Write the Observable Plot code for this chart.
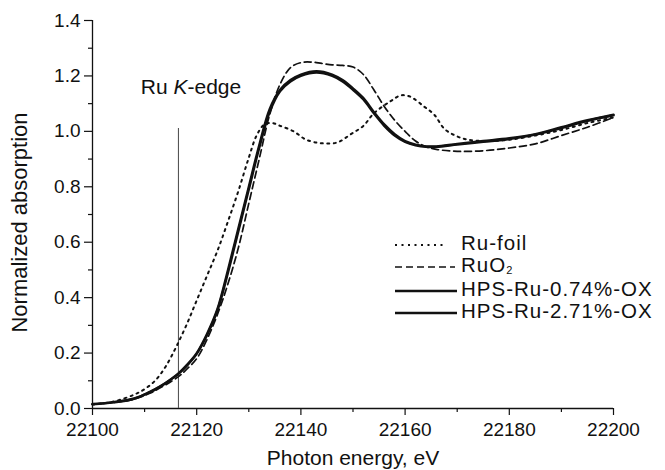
<!DOCTYPE html>
<html><head><meta charset="utf-8">
<script src="https://cdn.jsdelivr.net/npm/d3@7"></script>
<script src="https://cdn.jsdelivr.net/npm/@observablehq/plot@0.6"></script>
<style>
body{margin:0;background:#fff}
#wrap{position:relative;width:665px;height:470px;font-family:"Liberation Sans",Arial,sans-serif}
#wrap svg.overlay{position:absolute;left:0;top:0;pointer-events:none}
</style>
</head><body><div id="wrap"></div>
<script>
// ---- data ----
const seriesNames = ["Ru-foil", "RuO2", "HPS-Ru-0.74%-OX", "HPS-Ru-2.71%-OX"];

const energyFoil = [22100,22104,22108,22110,22112,22114,22116,22118,22120,22122,22124,22126,22128,22130,22131.5,22133,22134.5,22136,22138.6,22141,22144,22147,22149.6,22152,22154,22157.3,22159.2,22161,22163.6,22165.6,22167.5,22169.5,22172,22176,22180,22185,22190,22195,22200];
const absFoil    = [0.015,0.025,0.05,0.07,0.1,0.15,0.22,0.3,0.39,0.48,0.57,0.675,0.785,0.905,0.985,1.025,1.03,1.02,1.0,0.97,0.957,0.96,0.99,1.02,1.065,1.11,1.13,1.125,1.09,1.06,1.01,0.986,0.97,0.965,0.97,0.985,1.005,1.03,1.05];

const energyRuO2 = [22100,22104,22108,22111,22114,22116.5,22118,22120,22122,22124,22126,22128,22130,22132,22134,22136,22138,22140,22142,22144,22146,22148,22150,22152,22154,22156,22158,22160,22162,22164,22166,22170,22175,22180,22185,22190,22195,22200];
const absRuO2    = [0.015,0.022,0.034,0.055,0.085,0.115,0.14,0.18,0.25,0.34,0.45,0.58,0.74,0.9,1.06,1.17,1.23,1.248,1.25,1.245,1.24,1.238,1.232,1.205,1.15,1.09,1.04,1.0,0.965,0.945,0.935,0.928,0.93,0.94,0.955,0.985,1.015,1.05];

const energyHPS1 = [22100,22104,22108,22111,22113,22115,22116.5,22118,22120,22122,22124,22126,22128,22130,22132,22134,22136,22138,22140,22143,22146,22148,22150,22152,22154,22156,22158,22160,22162,22164,22166,22170,22175,22180,22185,22190,22195,22200];
const absHPS1    = [0.015,0.022,0.035,0.06,0.08,0.105,0.127,0.155,0.2,0.27,0.36,0.5,0.65,0.8,0.95,1.08,1.15,1.185,1.205,1.217,1.205,1.185,1.155,1.12,1.07,1.025,0.99,0.965,0.952,0.946,0.946,0.955,0.965,0.975,0.99,1.015,1.04,1.06];

const energyHPS2 = [22100,22104,22108,22111,22113,22115,22116.5,22118,22120,22122,22124,22126,22128,22130,22132,22134,22136,22138,22140,22143,22146,22148,22150,22152,22154,22156,22158,22160,22162,22164,22166,22170,22175,22180,22185,22190,22195,22200];
const absHPS2    = [0.016,0.023,0.036,0.058,0.079,0.104,0.125,0.152,0.197,0.265,0.355,0.49,0.64,0.79,0.94,1.07,1.145,1.18,1.2,1.212,1.2,1.18,1.15,1.115,1.065,1.02,0.985,0.962,0.95,0.944,0.944,0.952,0.962,0.972,0.988,1.012,1.038,1.058];

const xTicks = [22100,22120,22140,22160,22180,22200];
const xMinor = [22110,22130,22150,22170,22190];
const yTicks = [0,0.2,0.4,0.6,0.8,1.0,1.2,1.4];
const yMinor = [0.1,0.3,0.5,0.7,0.9,1.1,1.3];

const edgeEnergy = [22116.5];
const edgeTop = 1.01;
const edgeLabel = {energy: 22119, value: 1.155};

const xTitle = "Photon energy, eV";
const yTitle = "Normalized absorption";

// ---- build tables ----
const toRows = (E, A) => E.map((e, i) => ({e, a: A[i]}));
const foil = toRows(energyFoil, absFoil);
const ruo2 = toRows(energyRuO2, absRuO2);
const hps1 = toRows(energyHPS1, absHPS1);
const hps2 = toRows(energyHPS2, absHPS2);

const font = "'Liberation Sans', Arial, sans-serif";

const plot = Plot.plot({
  width: 665, height: 470,
  marginLeft: 92, marginRight: 52, marginTop: 20, marginBottom: 62,
  style: {fontFamily: font, background: "#fff", color: "#111"},
  x: {domain: [22100, 22200]},
  y: {domain: [0, 1.4]},
  marks: [
    Plot.axisX({ticks: xTicks, tickSize: 7, tickPadding: 7, fontSize: 19, label: null, tickFormat: d => String(d), strokeWidth: 1.2}),
    Plot.axisX({ticks: xMinor, tickSize: 4, text: null, label: null, strokeWidth: 1.2}),
    Plot.axisY({ticks: yTicks, tickSize: 8, tickPadding: 4, fontSize: 19, label: null, tickFormat: d3.format(".1f"), strokeWidth: 1.2}),
    Plot.axisY({ticks: yMinor, tickSize: 4, text: null, label: null, strokeWidth: 1.2}),
    Plot.ruleY([0], {stroke: "#111", strokeWidth: 1.3}),
    Plot.ruleX([22100], {stroke: "#111", strokeWidth: 1.3}),
    Plot.ruleX(edgeEnergy, {y1: 0, y2: edgeTop, stroke: "#555", strokeWidth: 1.1}),
    Plot.line(foil, {x: "e", y: "a", stroke: "#111", strokeWidth: 2, strokeDasharray: "2,4.5", curve: "catmull-rom"}),
    Plot.line(ruo2, {x: "e", y: "a", stroke: "#111", strokeWidth: 1.7, strokeDasharray: "7,4", curve: "catmull-rom"}),
    Plot.line(hps2, {x: "e", y: "a", stroke: "#111", strokeWidth: 2.4, curve: "catmull-rom"}),
    Plot.line(hps1, {x: "e", y: "a", stroke: "#111", strokeWidth: 2.4, curve: "catmull-rom"}),
    Plot.text([xTitle], {frameAnchor: "bottom", dy: 50, lineAnchor: "middle", fontSize: 21, fill: "#111", text: d => d}),
    Plot.text([yTitle], {frameAnchor: "left", dx: -73, dy: 8, rotate: -90, textAnchor: "middle", lineAnchor: "middle", fontSize: 22, fill: "#111", text: d => d})
  ]
});

const wrap = document.getElementById("wrap");
wrap.appendChild(plot);

// ---- overlay: edge label and legend ----
const xs = plot.scale("x"), ys = plot.scale("y");
const ov = d3.select(wrap).append("svg").attr("class", "overlay")
  .attr("width", 665).attr("height", 470)
  .style("font-family", font).style("fill", "#111");

const lab = ov.append("text")
  .attr("x", xs.apply(edgeLabel.energy)).attr("y", ys.apply(edgeLabel.value))
  .attr("text-anchor", "middle").attr("dominant-baseline", "middle")
  .attr("font-size", 21);
lab.append("tspan").text("Ru ");
lab.append("tspan").attr("font-style", "italic").text("K");
lab.append("tspan").text("-edge");

const legendStyles = [
  {dash: "2,4.5", w: 2, x2: 447},
  {dash: "7,4", w: 1.7, x2: 455},
  {dash: null, w: 2.4, x2: 457},
  {dash: null, w: 2.4, x2: 457}
];
const rowY = [245, 267, 291, 313];
seriesNames.forEach((name, i) => {
  const s = legendStyles[i];
  const ln = ov.append("line").attr("x1", 395).attr("x2", s.x2)
    .attr("y1", rowY[i]).attr("y2", rowY[i])
    .attr("stroke", "#111").attr("stroke-width", s.w);
  if (s.dash) ln.attr("stroke-dasharray", s.dash);
  const t = ov.append("text").attr("x", 461).attr("y", rowY[i])
    .attr("dominant-baseline", "middle").attr("font-size", 20.5)
    .attr("letter-spacing", "1px");
  if (name === "RuO2") {
    t.append("tspan").text("RuO");
    t.append("tspan").attr("font-size", 11).attr("dy", 4).text("2");
  } else {
    t.text(name);
  }
});
</script>
</body></html>
